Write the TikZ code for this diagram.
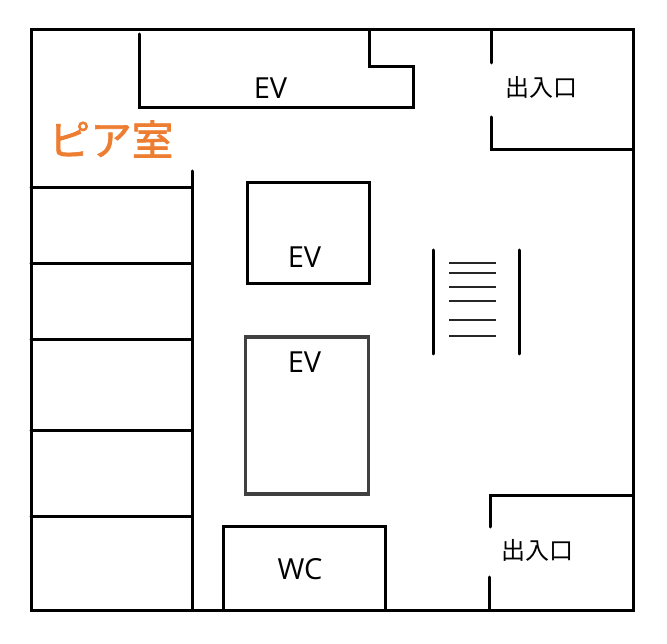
\documentclass[tikz,border=0pt]{standalone}
\usepackage{fontspec}
\setmainfont{Noto Sans CJK JP}
\newfontfamily\evfont{Open Sans}
\newfontfamily\pfont[FakeBold=1.6]{Noto Sans CJK JP}
\begin{document}
\begin{tikzpicture}[x=1pt,y=-1pt,
 wall/.style={line width=3pt,line cap=round,line join=miter,draw=black},
 thin wall/.style={line width=2.2pt,draw=black!85},
 gwall/.style={line width=3.2pt,draw=black!75},
 lab/.style={inner sep=0pt,font=\fontsize{24}{26}\selectfont},
 evl/.style={inner sep=0pt,font=\evfont\fontsize{29}{31}\selectfont}]
\useasboundingbox (0,0) rectangle (667,644);
\fill[white] (0,0) rectangle (667,644);
\draw[wall] (31,30) rectangle (633,610);
\draw[wall] (139,34) -- (139,108) -- (413,108) -- (413,67) -- (369,67) -- (369,30);
\draw[wall] (491,31) -- (491,63);
\draw[wall] (491,117) -- (491,150) -- (633,150);
\draw[wall] (192,171) -- (192,610);
\draw[wall] (31,188) -- (192,188);
\draw[wall] (31,264) -- (192,264);
\draw[wall] (31,340) -- (192,340);
\draw[wall] (31,430) -- (192,430);
\draw[wall] (31,516) -- (192,516);
\draw[wall] (247,183) rectangle (369,284);
\draw[gwall] (245.5,337) rectangle (368.5,494);
\draw[wall] (223,610) -- (223,526) -- (385,526) -- (385,610);
\draw[wall] (433,250) -- (433,354);
\draw[wall] (519,250) -- (519,354);
\foreach \y in {263,273,287,301,320,336}
  \draw[thin wall] (449,\y) -- (496,\y);
\draw[wall] (490,527) -- (490,495) -- (633,495);
\draw[wall] (489,577) -- (489,610);
\node[evl] (ev1) at (270.5,88) {EV};
\node[evl] (ev2) at (304.5,257) {EV};
\node[evl] (ev3) at (304.5,362) {EV};
\node[evl] (wc) at (300,569) {WC};
\node[lab] (d1) at (541.5,87) {出入口};
\node[lab] (d2) at (537,550) {出入口};
\node[inner sep=0pt,text={rgb,255:red,237;green,125;blue,49},font=\pfont\fontsize{41.5}{43}\selectfont] (p) at (111,139) {ピア室};
\end{tikzpicture}
\end{document}
